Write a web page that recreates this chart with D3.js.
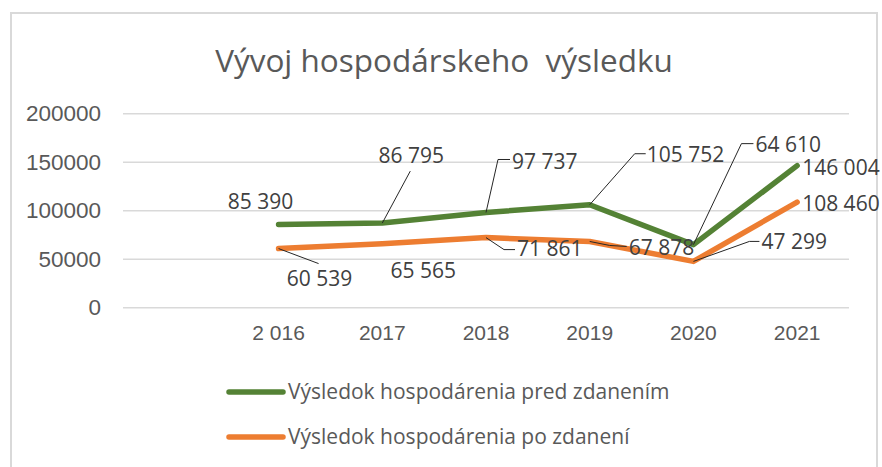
<!DOCTYPE html>
<html>
<head>
<meta charset="utf-8">
<script src="https://cdn.jsdelivr.net/npm/d3@7"></script>
<style>
  html, body { margin: 0; padding: 0; background: #fff; }
  svg { display: block; font-family: "Open Sans", sans-serif; }
</style>
</head>
<body>
<svg id="chart" width="882" height="467"></svg>
<script>
// Vývoj hospodárskeho výsledku – two line series, Excel-like styling.
// Excel chart had an empty first category slot, so the domain keeps a blank.
const categories = ['', '2 016', '2017', '2018', '2019', '2020', '2021'];
const predZdanenim = [null, 85390, 86795, 97737, 105752, 64610, 146004];
const poZdaneni    = [null, 60539, 65565, 71861, 67878, 47299, 108460];
const yTicks = [0, 50000, 100000, 150000, 200000];
const seriesNames = ['Výsledok hospodárenia pred zdanením', 'Výsledok hospodárenia po zdanení'];

// label placement (pixel offsets from the point): text anchor, text pos, optional leader elbow
const greenLabels = [
  null,
  { anchor: 'middle', dx: -18, dy: -23 },
  { anchor: 'middle', dx: 29, dy: -67, leader: [[28, -52]] },
  { anchor: 'start', dx: 26, dy: -51, leader: [[12, -53], [24, -53]] },
  { anchor: 'start', dx: 57, dy: -50, leader: [[45, -51], [56, -51]] },
  { anchor: 'start', dx: 62, dy: -100, leader: [[48, -101], [60, -101]] },
  { anchor: 'start', dx: 5, dy: 2 },
];
const orangeLabels = [
  null,
  { anchor: 'middle', dx: 41, dy: 30, leader: [[40, 15]] },
  { anchor: 'middle', dx: 41, dy: 27 },
  { anchor: 'start', dx: 31, dy: 11, leader: [[18, 12], [29, 12]] },
  { anchor: 'start', dx: 39, dy: 6, leader: [[20, 4], [37, 5]] },
  { anchor: 'start', dx: 68, dy: -20, leader: [[56, -20], [66, -20]] },
  { anchor: 'start', dx: 5, dy: 2 },
];

const GREEN = '#548235', ORANGE = '#ed7d31';
const svg = d3.select('#chart');

// chart frame
svg.append('rect').attr('x', 11).attr('y', 13).attr('width', 866).attr('height', 480)
  .attr('fill', '#fff').attr('stroke', '#d9d9d9').attr('stroke-width', 2);

svg.append('text').attr('x', 444).attr('y', 72).attr('text-anchor', 'middle')
  .attr('fill', '#595959').attr('font-size', 31.5).style('white-space', 'pre')
  .text('Vývoj hospodárskeho  výsledku');

const x = d3.scaleBand().domain(categories.map((c, i) => i)).range([123, 849]);
const y = d3.scaleLinear().domain([0, 200000]).range([307.3, 113.3]);
const cx = i => x(i) + x.bandwidth() / 2;

// gridlines + y labels
const gy = svg.append('g').attr('transform', 'translate(123,0)')
  .call(d3.axisLeft(y).tickValues(yTicks).tickSize(-726).tickPadding(22).tickFormat(d3.format('d')));
gy.select('.domain').remove();
gy.selectAll('line').attr('stroke', '#d9d9d9').attr('stroke-width', 1.6);
gy.selectAll('text').attr('fill', '#595959').attr('font-size', 22.5).attr('font-family', null);

// x labels
const gx = svg.append('g').attr('transform', 'translate(0,307.3)')
  .call(d3.axisBottom(x).tickSize(0).tickPadding(18).tickFormat(i => categories[i]));
gx.select('.domain').remove();
gx.selectAll('text').attr('fill', '#595959').attr('font-size', 21).attr('font-family', null)
  .style('white-space', 'pre');

const fmt = d3.formatLocale({ thousands: '\u00a0', grouping: [3], decimal: ',', currency: ['', ''] }).format(',d');

function drawSeries(values, color, labels) {
  const line = d3.line().defined(d => d != null).x((d, i) => cx(i)).y(d => y(d));
  svg.append('path').datum(values).attr('d', line).attr('fill', 'none')
    .attr('stroke', color).attr('stroke-width', 5.5).attr('stroke-linecap', 'round').attr('stroke-linejoin', 'round');
  values.forEach((v, i) => {
    if (v == null) return;
    const p = [cx(i), y(v)], L = labels[i];
    if (L.leader) {
      const pts = [p].concat(L.leader.map(o => [p[0] + o[0], p[1] + o[1]]));
      svg.append('path').attr('d', d3.line()(pts)).attr('fill', 'none')
        .attr('stroke', '#262626').attr('stroke-width', 1);
    }
    svg.append('text').attr('x', p[0] + L.dx).attr('y', p[1] + L.dy).attr('dy', '0.35em')
      .attr('text-anchor', L.anchor).attr('fill', '#404040').attr('font-size', 21).text(fmt(v));
  });
}
drawSeries(predZdanenim, GREEN, greenLabels);
drawSeries(poZdaneni, ORANGE, orangeLabels);

// legend
const legend = svg.append('g');
[GREEN, ORANGE].forEach((c, i) => {
  const ly = 392 + i * 45;
  legend.append('line').attr('x1', 229).attr('x2', 283).attr('y1', ly).attr('y2', ly)
    .attr('stroke', c).attr('stroke-width', 5.5).attr('stroke-linecap', 'round');
  legend.append('text').attr('x', 288).attr('y', ly).attr('dy', '0.35em')
    .attr('fill', '#595959').attr('font-size', 21).text(seriesNames[i]);
});
</script>
</body>
</html>
